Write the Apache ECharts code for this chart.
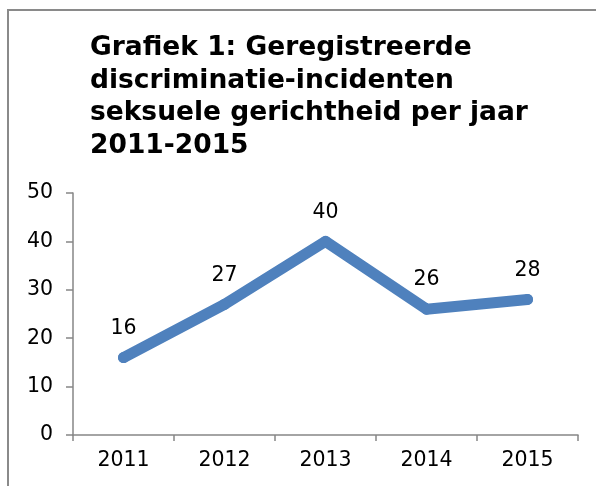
<!DOCTYPE html>
<html>
<head>
<meta charset="utf-8">
<script src="https://cdn.jsdelivr.net/npm/echarts@6/dist/echarts.min.js"></script>
<style>
  html, body { margin: 0; padding: 0; background: #fff; }
  #chart { width: 596px; height: 486px; }
</style>
</head>
<body>
<div id="chart"></div>
<script>
// lijngrafiek incidenten per jaar
const jaren = ['2011', '2012', '2013', '2014', '2015'];
const incidenten = [16, 27, 40, 26, 28];
const titel = 'Grafiek 1: Geregistreerde\ndiscriminatie-incidenten\nseksuele gerichtheid per jaar\n2011-2015';

const font = 'Verdana, "DejaVu Sans", sans-serif';
const asKleur = '#868686';

let myChart = echarts.init(document.getElementById('chart'));
let option = {
  animation: false,
  title: {
    text: titel,
    left: 85,
    top: 27,
    textStyle: {
      fontFamily: font,
      fontSize: 26.5,
      fontWeight: 'bold',
      color: '#000',
      lineHeight: 32.5
    }
  },
  graphic: [{
    type: 'rect',
    shape: { x: 8, y: 10, width: 700, height: 600 },
    style: { fill: 'none', stroke: '#8a8a8a', lineWidth: 2 }
  }],
  grid: { left: 73, right: 18, top: 193, bottom: 51 },
  xAxis: {
    type: 'category',
    data: jaren,
    boundaryGap: true,
    axisLine: { lineStyle: { color: asKleur, width: 1.5 } },
    axisTick: { show: true, length: 6, alignWithLabel: false, lineStyle: { color: asKleur, width: 1.5 } },
    axisLabel: { fontFamily: font, fontSize: 20.5, color: '#000', margin: 15 }
  },
  yAxis: {
    type: 'value',
    min: 0,
    max: 50,
    interval: 10,
    splitLine: { show: false },
    axisLine: { show: true, lineStyle: { color: asKleur, width: 1.5 } },
    axisTick: { show: true, length: 7, lineStyle: { color: asKleur, width: 1.5 } },
    axisLabel: { fontFamily: font, fontSize: 20.5, color: '#000', margin: 20 }
  },
  series: [{
    type: 'line',
    data: incidenten,
    symbol: 'circle',
    symbolSize: 11,
    itemStyle: { color: '#4F81BD' },
    lineStyle: { color: '#4F81BD', width: 11, cap: 'round', join: 'round' },
    label: {
      show: true,
      position: 'top',
      distance: 13,
      fontFamily: font,
      fontSize: 20.5,
      color: '#000'
    }
  }]
};
myChart.setOption(option);
</script>
</body>
</html>
